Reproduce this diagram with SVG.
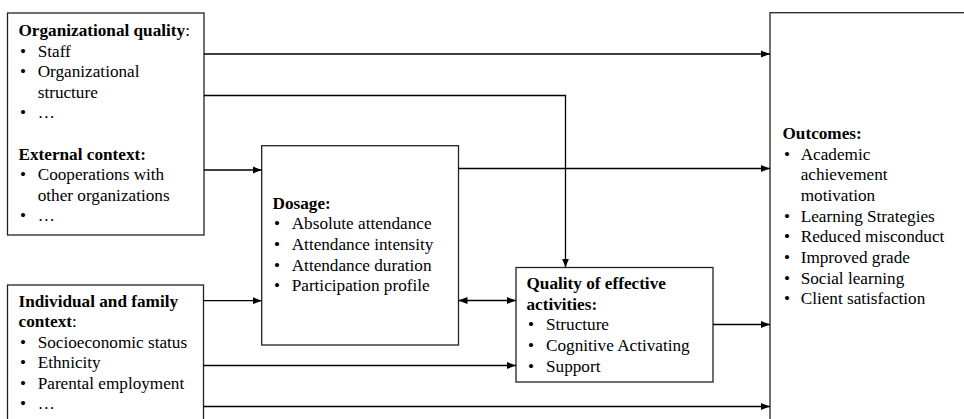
<svg xmlns="http://www.w3.org/2000/svg" width="964" height="419" viewBox="0 0 964 419">
<style>
.box{fill:#fff;stroke:#222;stroke-width:1.3}
.ln{fill:none;stroke:#000;stroke-width:1.3}
text{font-family:"Liberation Serif","Times New Roman",serif;font-size:17.2px;fill:#000}
.b{font-weight:bold}
</style>
<defs>
<marker id="ah" markerUnits="userSpaceOnUse" markerWidth="9" markerHeight="8" refX="9" refY="4" orient="auto-start-reverse"><path d="M0,0.5 L9,4 L0,7.5 z" fill="#000"/></marker>
</defs>
<rect width="964" height="419" fill="#fff"/>
<g id="org-quality">
<rect class="box" x="7.5" y="13" width="196.5" height="222"/>
<text x="18.5" y="36"><tspan class="b">Organizational quality</tspan>:</text>
<text x="20" y="56.6">•</text><text x="37.7" y="56.6">Staff</text>
<text x="20" y="77.2">•</text><text x="37.7" y="77.2">Organizational</text>
<text x="37.7" y="97.8">structure</text>
<text x="20" y="118.4">•</text><text x="37.7" y="118.4">…</text>
<text x="18.5" y="159.6" class="b">External context:</text>
<text x="20" y="180.2">•</text><text x="37.7" y="180.2">Cooperations with</text>
<text x="37.7" y="200.8">other organizations</text>
<text x="20" y="221.4">•</text><text x="37.7" y="221.4">…</text>
</g>
<g id="individual-context">
<rect class="box" x="7.5" y="285" width="196" height="145"/>
<text x="18.5" y="306.5" class="b">Individual and family</text>
<text x="18.5" y="327"><tspan class="b">context</tspan>:</text>
<text x="20" y="347.5">•</text><text x="37.7" y="347.5">Socioeconomic status</text>
<text x="20" y="368">•</text><text x="37.7" y="368">Ethnicity</text>
<text x="20" y="388.5">•</text><text x="37.7" y="388.5">Parental employment</text>
<text x="20" y="409">•</text><text x="37.7" y="409">…</text>
</g>
<g id="dosage">
<rect class="box" x="261.7" y="145.7" width="196.8" height="199.3"/>
<text x="272.5" y="208.5" class="b">Dosage:</text>
<text x="274" y="229">•</text><text x="291.7" y="229">Absolute attendance</text>
<text x="274" y="250">•</text><text x="291.7" y="250">Attendance intensity</text>
<text x="274" y="270.8">•</text><text x="291.7" y="270.8">Attendance duration</text>
<text x="274" y="291.3">•</text><text x="291.7" y="291.3">Participation profile</text>
</g>
<g id="quality-activities">
<rect class="box" x="516" y="267.5" width="197" height="114.5"/>
<text x="526.5" y="289.3" class="b">Quality of effective</text>
<text x="526.5" y="309.8" class="b">activities:</text>
<text x="528" y="330.4">•</text><text x="546" y="330.4">Structure</text>
<text x="528" y="351">•</text><text x="546" y="351">Cognitive Activating</text>
<text x="528" y="371.5">•</text><text x="546" y="371.5">Support</text>
</g>
<g id="outcomes">
<rect class="box" x="770" y="12.7" width="210" height="420"/>
<text x="782.5" y="139" class="b">Outcomes:</text>
<text x="784" y="159.7">•</text><text x="800.7" y="159.7">Academic</text>
<text x="800.7" y="180.4">achievement</text>
<text x="800.7" y="201">motivation</text>
<text x="784" y="221.7">•</text><text x="800.7" y="221.7">Learning Strategies</text>
<text x="784" y="242.4">•</text><text x="800.7" y="242.4">Reduced misconduct</text>
<text x="784" y="263">•</text><text x="800.7" y="263">Improved grade</text>
<text x="784" y="283.7">•</text><text x="800.7" y="283.7">Social learning</text>
<text x="784" y="304.4">•</text><text x="800.7" y="304.4">Client satisfaction</text>
</g>
<g id="connectors">
<path class="ln" d="M204,54 H770" marker-end="url(#ah)"/>
<path class="ln" d="M204,95.5 H565.5 V267.5" marker-end="url(#ah)"/>
<path class="ln" d="M204,170 H261.7" marker-end="url(#ah)"/>
<path class="ln" d="M458.5,168.5 H770" marker-end="url(#ah)"/>
<path class="ln" d="M203.5,300.7 H261.7" marker-end="url(#ah)"/>
<path class="ln" d="M458.5,300.5 H516" marker-start="url(#ah)" marker-end="url(#ah)"/>
<path class="ln" d="M203.5,365.5 H516" marker-end="url(#ah)"/>
<path class="ln" d="M713,324.5 H770" marker-end="url(#ah)"/>
<path class="ln" d="M203.5,406.5 H770" marker-end="url(#ah)"/>
</g>
</svg>
